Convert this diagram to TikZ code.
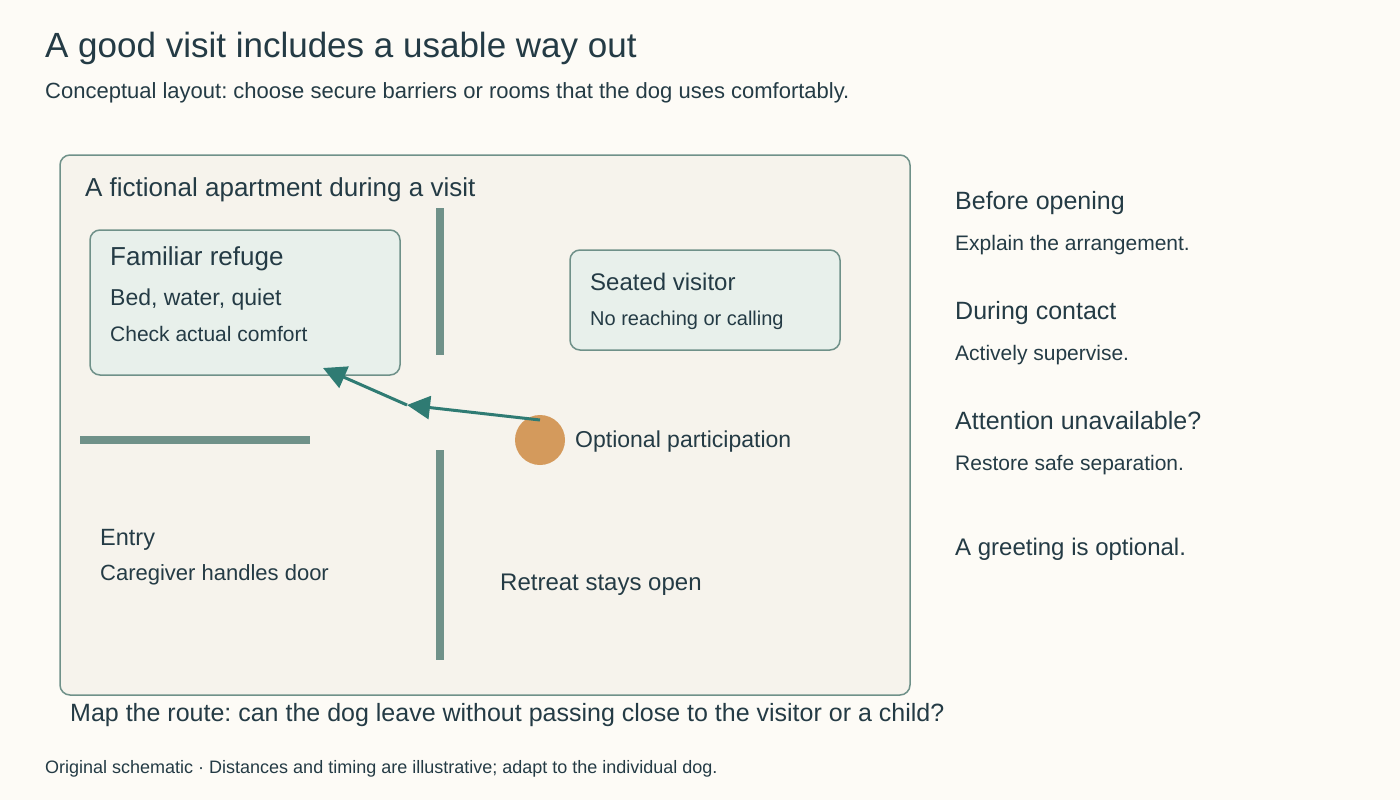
\documentclass[tikz,border=0pt]{standalone}
\usepackage{fontspec}
\setmainfont{Liberation Sans}
\usetikzlibrary{arrows.meta}
\definecolor{bgc}{HTML}{FDFBF6}
\definecolor{framefill}{HTML}{F6F3EC}
\definecolor{edgec}{HTML}{6F9189}
\definecolor{boxfill}{HTML}{E8F0EB}
\definecolor{txt}{HTML}{243B45}
\definecolor{arrowc}{HTML}{2F7B73}
\definecolor{dogc}{HTML}{D49A5C}
\tikzset{
  lbl/.style={anchor=base west, inner sep=0pt, text=txt},
  wall/.style={draw=edgec, line width=8pt},
  room/.style={draw=edgec, line width=1.5pt, rounded corners=10pt},
  route/.style={draw=arrowc, line width=3pt, -{Triangle[length=23pt,width=23pt]}},
}
\newcommand{\fs}[1]{\fontsize{#1}{#1}\selectfont}
\frenchspacing
\begin{document}
\begin{tikzpicture}[x=1pt,y=-1pt]
\fill[bgc] (0,0) rectangle (1400,800);
\useasboundingbox (0,0) rectangle (1400,800);
% title
\node[lbl] (title) at (45,58) {\fs{35}A good visit includes a usable way out};
\node[lbl] (subtitle) at (45,98) {\fs{22}Conceptual layout: choose secure barriers or rooms that the dog uses comfortably.};
% apartment
\path[room, fill=framefill] (60,155) rectangle (910,695);
\node[lbl] (aptlabel) at (85,196) {\fs{26}A fictional apartment during a visit};
% walls
\draw[wall] (440,208) -- (440,355);
\draw[wall] (440,450) -- (440,660);
\draw[wall] (80,440) -- (310,440);
% refuge
\path[room, fill=boxfill] (90,230) rectangle (400,375);
\coordinate (refuge) at (323,368);
\node[lbl] (refugeT) at (110,265) {\fs{26}Familiar refuge};
\node[lbl] (refugeA) at (110,305) {\fs{23}Bed, water, quiet};
\node[lbl] (refugeB) at (110,341) {\fs{21}Check actual comfort};
% visitor
\path[room, fill=boxfill] (570,250) rectangle (840,350);
\node[lbl] (visitT) at (590,290) {\fs{24}Seated visitor};
\node[lbl] (visitA) at (590,325) {\fs{20}No reaching or calling};
% dog
\node[circle, fill=dogc, minimum size=50pt, inner sep=0pt] (dog) at (540,440) {};
\node[lbl] (dogT) at (575,447) {\fs{23}Optional participation};
\coordinate (start) at (540,420);
\coordinate (mid) at (407,405);
\draw[route] (start) -- (mid);
\draw[route] (mid) -- (refuge);
% entry
\node[lbl] (entryT) at (100,545) {\fs{23.5}Entry};
\node[lbl] (entryA) at (100,580) {\fs{22}Caregiver handles door};
\node[lbl] (retreat) at (500,590) {\fs{24}Retreat stays open};
% right column
\node[lbl] (r1) at (955,209) {\fs{25}Before opening};
\node[lbl] (r1a) at (955,250) {\fs{21}Explain the arrangement.};
\node[lbl] (r2) at (955,319) {\fs{25}During contact};
\node[lbl] (r2a) at (955,360) {\fs{21}Actively supervise.};
\node[lbl] (r3) at (955,429) {\fs{25}Attention unavailable?};
\node[lbl] (r3a) at (955,470) {\fs{21}Restore safe separation.};
\node[lbl] (r4) at (955,555) {\fs{24}A greeting is optional.};
% bottom
\node[lbl] (route) at (70,721) {\fs{25}Map the route: can the dog leave without passing close to the visitor or a child?};
\node[lbl] (foot) at (45,773) {\fs{18}Original schematic · Distances and timing are illustrative; adapt to the individual dog.};
\end{tikzpicture}
\end{document}
